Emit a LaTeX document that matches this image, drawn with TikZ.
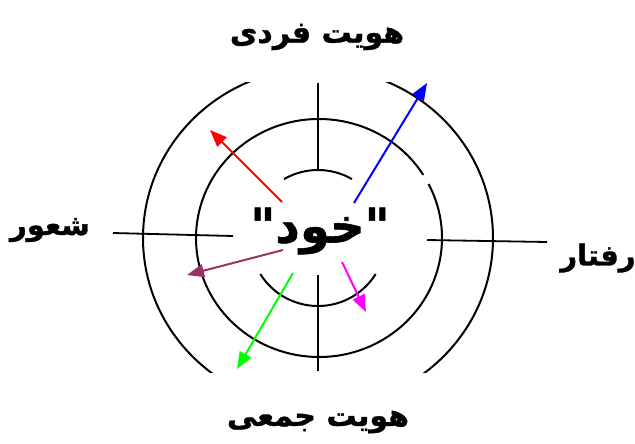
\documentclass[tikz,border=0pt]{standalone}
\usepackage{fontspec}
\usetikzlibrary{arrows.meta}
\TeXXeTstate=1
\newfontfamily\arabicfont[Script=Arabic,BoldFeatures={FakeBold=1.2}]{DejaVu Sans}
\definecolor{maroonish}{RGB}{153,51,102}
\definecolor{pureMagenta}{RGB}{255,0,255}
\definecolor{pureGreen}{RGB}{0,255,0}
\begin{document}
\begin{tikzpicture}[x=1pt,y=-1pt,
  ring/.style={line width=2pt,black},
  axis/.style={line width=1.8pt,black},
  ray/.style={line width=2pt,-{Triangle[length=17pt,width=13pt]}},
  lbl/.style={font=\arabicfont\bfseries\fontsize{30}{34}\selectfont,inner sep=0pt},
  side/.style={lbl,font=\arabicfont\bfseries\fontsize{29}{33}\selectfont}]
\useasboundingbox (0,0) rectangle (635,444);
\fill[white] (0,0) rectangle (635,444);
% outer ring, clipped top and bottom
\begin{scope}
\clip (0,83) rectangle (635,372);
\draw[ring] (318,238) ellipse [x radius=175, y radius=170];
\end{scope}
% middle ring with a small gap at upper right
\draw[ring] ([shift={(32:123pt and 119pt)}]319,238) arc[start angle=32,end angle=387,x radius=123pt,y radius=119pt];
% inner arcs
\draw[ring] ([shift={(60:68pt)}]318,238) arc[start angle=60,end angle=120,radius=68pt];
\draw[ring] ([shift={(212:68pt)}]318,238) arc[start angle=212,end angle=328,radius=68pt];
% axes
\coordinate (vt1) at (318,83);  \coordinate (vt2) at (318,170);
\coordinate (vb1) at (318,275); \coordinate (vb2) at (318,371);
\coordinate (hl1) at (113,233); \coordinate (hl2) at (233,236);
\coordinate (hr1) at (427,240); \coordinate (hr2) at (547,242);
\draw[axis] (vt1) -- (vt2);
\draw[axis] (vb1) -- (vb2);
\draw[axis] (hl1) -- (hl2);
\draw[axis] (hr1) -- (hr2);
% centre text
\node[lbl,font=\arabicfont\bfseries\fontsize{48}{54}\selectfont] (self) at (320,231) {\beginR"خود"\endR};
% labels
\node[lbl] (top) at (317,37) {\beginR هويت فردی\endR};
\node[lbl] (bot) at (318,422) {\beginR هويت جمعی\endR};
\node[side] (left) at (50,230) {\beginR شعور\endR};
\node[side] (right) at (598,258) {\beginR رفتار\endR};
% arrows
\coordinate (rs) at (282,202); \coordinate (re) at (210,130);
\coordinate (bs) at (354,203); \coordinate (be) at (427,83);
\coordinate (ps) at (283,250); \coordinate (pe) at (187,275);
\coordinate (gs) at (293,273); \coordinate (ge) at (237,369);
\coordinate (ms) at (342,262); \coordinate (me) at (366,312);
\draw[ray,red] (rs) -- (re);
\draw[ray,blue] (bs) -- (be);
\draw[ray,maroonish] (ps) -- (pe);
\draw[ray,pureGreen] (gs) -- (ge);
\draw[ray,pureMagenta] (ms) -- (me);
\end{tikzpicture}
\end{document}
